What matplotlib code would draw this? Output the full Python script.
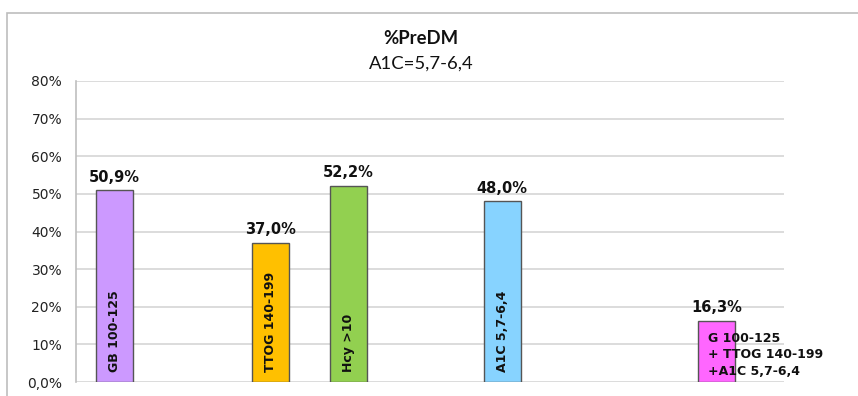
import matplotlib
matplotlib.use("Agg")
import matplotlib.pyplot as plt
from matplotlib.patches import Rectangle

# Data
categories = ["GB 100-125", "TTOG 140-199", "Hcy >10", "A1C 5,7-6,4",
              "G 100-125\n+ TTOG 140-199\n+A1C 5,7-6,4"]
values = [50.9, 37.0, 52.2, 48.0, 16.3]
value_labels = ["50,9%", "37,0%", "52,2%", "48,0%", "16,3%"]
y_ticks = [0, 10, 20, 30, 40, 50, 60, 70, 80]
y_tick_labels = ["0,0%", "10%", "20%", "30%", "40%", "50%", "60%", "70%", "80%"]

# Layout
positions = [0.49, 2.47, 3.46, 5.42, 8.14]
colors = ["#CC99FF", "#FFC000", "#92D050", "#87D3FF", "#FF66FF"]
bar_width = 0.47

W, H = 858, 396
fig = plt.figure(figsize=(W / 100, H / 100), dpi=100)
fig.patch.set_facecolor("white")

# Chart-area frame
fig.patches.append(Rectangle((7 / W, -0.05), 1.2, 1 - 12.5 / H + 0.05,
                             transform=fig.transFigure, fill=False,
                             edgecolor="#bdbdbd", linewidth=1.2))

ax = fig.add_axes([76 / W, 1 - 382 / H, (784 - 76) / W, (382 - 81) / H])
ax.set_xlim(0, 9)
ax.set_ylim(0, 80)

bars = ax.bar(positions, values, width=bar_width, color=colors,
              edgecolor="#555555", linewidth=1.0, zorder=3)

ax.set_yticks(y_ticks)
ax.set_yticklabels(y_tick_labels, fontsize=10, color="#222222",
                   family="DejaVu Sans")
ax.set_xticks([])
ax.tick_params(axis="y", length=0, pad=10)
ax.grid(axis="y", color="#d9d9d9", linewidth=1.3, zorder=0)
for s in ["top", "right", "bottom"]:
    ax.spines[s].set_visible(False)
ax.spines["left"].set_color("#bfbfbf")
ax.spines["left"].set_linewidth(1.2)

# Value labels above bars
for x, v, lab in zip(positions, values, value_labels):
    ax.annotate(lab, (x, v), xytext=(0, 4), textcoords="offset points",
                ha="center", va="bottom", fontsize=10.5, fontweight="bold",
                color="#111111")

# Category labels inside bars
for x, cat in zip(positions[:4], categories[:4]):
    ax.annotate(cat, (x, 0), xytext=(0, 7), textcoords="offset points",
                ha="center", va="bottom", rotation=90, fontsize=9,
                fontweight="bold", color="#111111", zorder=4)

ax.annotate(categories[4], (positions[4] - bar_width / 2, 0),
            xytext=(7.5, 3), textcoords="offset points",
            ha="left", va="bottom", fontsize=9, fontweight="bold",
            color="#111111", linespacing=1.35, zorder=4)

# Titles
fig.text(421 / W, 1 - 38 / H, "%PreDM", ha="center", va="center",
         fontsize=13.3, fontweight="bold", family="Lato", color="#111111")
fig.text(421 / W, 1 - 64 / H, "A1C=5,7-6,4", ha="center", va="center",
         fontsize=13.3, family="Lato", color="#111111")

fig.savefig("out.png", dpi=100, facecolor="white")
